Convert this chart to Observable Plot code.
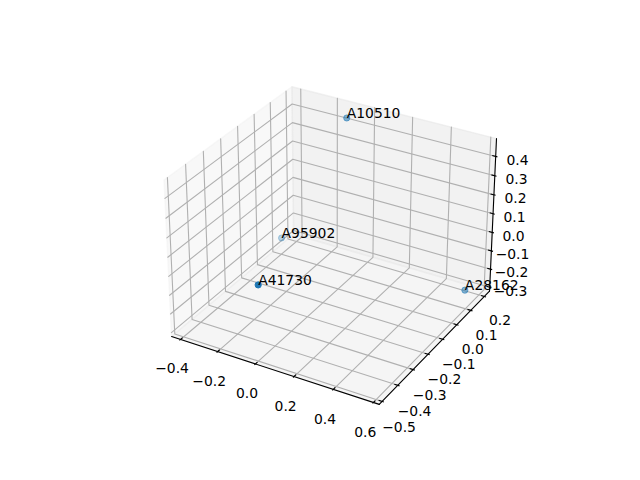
<!DOCTYPE html>
<html>
<head>
<meta charset="utf-8">
<script src="https://cdn.jsdelivr.net/npm/d3@7"></script>
<script src="https://cdn.jsdelivr.net/npm/@observablehq/plot@0.6"></script>
<style>
  html, body { margin: 0; padding: 0; background: #fff; }
</style>
</head>
<body>
<div id="chart"></div>
<script>
// ---- data ----
const names = ["A10510", "A95902", "A41730", "A28162"];
const xs = [-0.11, -0.38, -0.02, 0.56];
const ys = [0.19, 0.08, -0.47, 0.15];
const zs = [0.44, -0.21, 0.05, -0.27];
const xTicks = [-0.4, -0.2, 0.0, 0.2, 0.4, 0.6];
const yTicks = [-0.5, -0.4, -0.3, -0.2, -0.1, 0.0, 0.1, 0.2];
const zTicks = [-0.3, -0.2, -0.1, 0.0, 0.1, 0.2, 0.3, 0.4];

// ---- 3D view (matplotlib default: elev 30, azim -60, perspective) ----
const elev = 30 * Math.PI / 180, azim = -60 * Math.PI / 180, dist = 10;
const aspect0 = [4, 4, 3];
const an = Math.hypot(...aspect0);
const box = aspect0.map(v => v * 1.8294640721620434 / an);
const R = box.map(v => v / 2);
const w = [Math.cos(elev) * Math.cos(azim), Math.cos(elev) * Math.sin(azim), Math.sin(elev)];
const cross = (a, b) => [a[1]*b[2]-a[2]*b[1], a[2]*b[0]-a[0]*b[2], a[0]*b[1]-a[1]*b[0]];
const dot3 = (a, b) => a[0]*b[0] + a[1]*b[1] + a[2]*b[2];
let u = cross([0, 0, 1], w); const un = Math.hypot(...u); u = u.map(v => v / un);
const v = cross(w, u);

function proj(n) {
  const d = [n[0]*box[0] - R[0], n[1]*box[1] - R[1], n[2]*box[2] - R[2]];
  const Z = dot3(w, d) - dist;
  return {px: dot3(u, d) / -Z, py: dot3(v, d) / -Z, depth: dist / Z};
}

function lim(vals) {
  const mn = d3.min(vals), mx = d3.max(vals), m = (mx - mn) * 0.05;
  return [mn - m, mx + m];
}
const XL = lim(xs), YL = lim(ys), ZL = lim(zs);
const nx = t => (t - XL[0]) / (XL[1] - XL[0]);
const ny = t => (t - YL[0]) / (YL[1] - YL[0]);
const nz = t => (t - ZL[0]) / (ZL[1] - ZL[0]);

const PAD = 1 / 48, lo = -PAD, hi = 1 + PAD;
const TOUT = 0.1 / 12, TIN = 0.2 / 12, LOFF = 1.037 / 12;

// panes
function poly(id, corners) {
  return corners.concat([corners[0]]).map(c => ({id, ...proj(c)}));
}
const paneX = poly("x", [[lo,lo,lo],[lo,hi,lo],[lo,hi,hi],[lo,lo,hi]]);
const paneY = poly("y", [[lo,hi,lo],[hi,hi,lo],[hi,hi,hi],[lo,hi,hi]]);
const paneZ = poly("z", [[lo,lo,lo],[hi,lo,lo],[hi,hi,lo],[lo,hi,lo]]);

// grid lines
const grid = [];
xTicks.forEach((t, i) => { const a = nx(t);
  [[a,lo,lo],[a,hi,lo],[a,hi,hi]].forEach(c => grid.push({id: "x" + i, ...proj(c)})); });
yTicks.forEach((t, i) => { const b = ny(t);
  [[lo,b,hi],[lo,b,lo],[hi,b,lo]].forEach(c => grid.push({id: "y" + i, ...proj(c)})); });
zTicks.forEach((t, i) => { const c = nz(t);
  [[hi,hi,c],[lo,hi,c],[lo,lo,c]].forEach(p => grid.push({id: "z" + i, ...proj(p)})); });

// axis lines
const axes = [];
[["x", [lo,lo,lo], [hi,lo,lo]], ["y", [hi,lo,lo], [hi,hi,lo]], ["z", [hi,hi,lo], [hi,hi,hi]]]
  .forEach(([id, a, b]) => { axes.push({id, ...proj(a)}); axes.push({id, ...proj(b)}); });

// ticks and tick labels
const fmt = d3.format(".1f");
const ticks = [], labels = [];
function addTick(t, p1, p2, pl, ax) {
  const a = proj(p1), b = proj(p2), l = proj(pl);
  ticks.push({x1: a.px, y1: a.py, x2: b.px, y2: b.py});
  labels.push({x: l.px, y: l.py, text: fmt(t), ax});
}
xTicks.forEach(t => { const a = nx(t);
  addTick(t, [a, lo - TOUT, lo], [a, lo + TIN, lo], [a, lo - LOFF, lo - LOFF], "x"); });
yTicks.forEach(t => { const b = ny(t);
  addTick(t, [hi + TOUT, b, lo], [hi - TIN, b, lo], [hi + LOFF, b, lo - LOFF], "y"); });
zTicks.forEach(t => { const c = nz(t);
  addTick(t, [hi + TOUT, hi, c], [hi - TIN, hi, c], [hi + LOFF, hi + LOFF, c], "z"); });

// points with depth shading
const pts = names.map((name, i) => ({name, ...proj([nx(xs[i]), ny(ys[i]), nz(zs[i])])}));
const dmin = d3.min(pts, d => d.depth), dmax = d3.max(pts, d => d.depth);
pts.forEach(d => d.alpha = 1 - 0.7 * (d.depth - dmin) / (dmax - dmin));
pts.sort((a, b) => b.depth - a.depth);

const chart = Plot.plot({
  width: 640, height: 480, margin: 0,
  x: {type: "linear", domain: [-0.095, 0.09], range: [143.2, 512.8], axis: null},
  y: {type: "linear", domain: [-0.095, 0.09], range: [427.2, 57.6], axis: null},
  style: {fontFamily: "DejaVu Sans", fontSize: "13.9px", background: "white", color: "black"},
  marks: [
    Plot.line(paneX, {x: "px", y: "py", fill: "#f2f2f2", fillOpacity: 0.5, stroke: "#f2f2f2", strokeOpacity: 0.5, strokeWidth: 1.4, curve: "linear"}),
    Plot.line(paneY, {x: "px", y: "py", fill: "#e6e6e6", fillOpacity: 0.5, stroke: "#e6e6e6", strokeOpacity: 0.5, strokeWidth: 1.4, curve: "linear"}),
    Plot.line(paneZ, {x: "px", y: "py", fill: "#ececec", fillOpacity: 0.5, stroke: "#ececec", strokeOpacity: 0.5, strokeWidth: 1.4, curve: "linear"}),
    Plot.line(grid, {x: "px", y: "py", z: "id", stroke: "#b0b0b0", strokeWidth: 1.1}),
    Plot.line(axes, {x: "px", y: "py", z: "id", stroke: "black", strokeWidth: 1.1}),
    Plot.link(ticks, {x1: "x1", y1: "y1", x2: "x2", y2: "y2", stroke: "black", strokeWidth: 1.1}),
    Plot.text(labels.filter(d => d.ax === "x"), {x: "x", y: "y", text: "text", textAnchor: "middle", lineAnchor: "top", dx: 2, dy: 2, fill: "black"}),
    Plot.text(labels.filter(d => d.ax === "y"), {x: "x", y: "y", text: "text", textAnchor: "middle", lineAnchor: "top", dx: -1, dy: 2, fill: "black"}),
    Plot.text(labels.filter(d => d.ax === "z"), {x: "x", y: "y", text: "text", textAnchor: "middle", lineAnchor: "top", dx: -4.5, dy: 2, fill: "black"}),
    Plot.dot(pts, {x: "px", y: "py", r: 3.1, fill: "#1f77b4", fillOpacity: "alpha", stroke: "#1f77b4", strokeOpacity: "alpha", strokeWidth: 1}),
    Plot.text(pts, {x: "px", y: "py", text: "name", textAnchor: "start", lineAnchor: "bottom", fill: "black"})
  ]
});
document.getElementById("chart").appendChild(chart);
</script>
</body>
</html>
